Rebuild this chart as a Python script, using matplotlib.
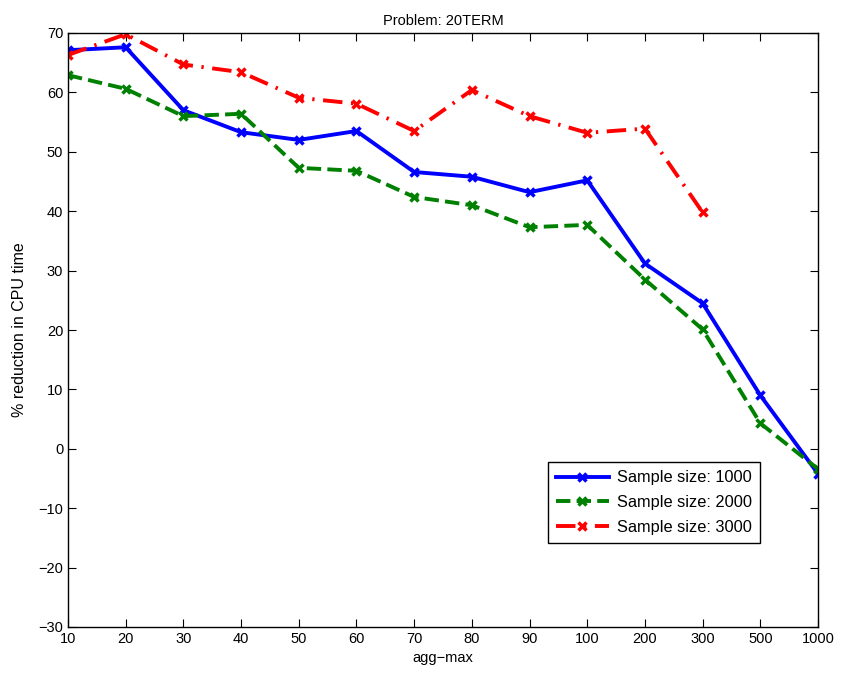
import matplotlib
matplotlib.use("Agg")
import matplotlib.pyplot as plt
import numpy as np

plt.rcParams['font.family'] = ['Liberation Sans', 'DejaVu Sans']

categories = ['10', '20', '30', '40', '50', '60', '70', '80', '90', '100', '200', '300', '500', '1000']
s1000 = [67.1, 67.6, 57.0, 53.3, 52.0, 53.5, 46.6, 45.8, 43.2, 45.2, 31.2, 24.5, 9.0, -4.2]
s2000 = [62.9, 60.6, 56.0, 56.4, 47.3, 46.8, 42.4, 41.0, 37.3, 37.7, 28.5, 20.1, 4.3, -3.4]
s3000 = [66.3, 69.8, 64.7, 63.4, 59.1, 58.1, 53.5, 60.4, 56.0, 53.2, 53.9, 39.8]

fig = plt.figure(figsize=(8.42, 6.75), dpi=100)
ax = fig.add_axes([68/842, 48/675, 750/842, 594/675])

x = np.arange(len(categories))
mk = dict(marker='x', markersize=6, markeredgewidth=2.5)
ax.plot(x, s1000, color='#0000ff', linestyle='-', linewidth=2.8, label='Sample size: 1000', **mk)
ax.plot(x, s2000, color='#008000', linestyle='--', linewidth=2.8, label='Sample size: 2000', **mk)
ax.plot(x[:len(s3000)], s3000, color='#ff0000', linestyle=(0, (5, 2.2, 0.6, 2.2)), linewidth=2.8,
        label='Sample size: 3000', **mk)

ax.set_xlim(0, len(categories) - 1)
ax.set_ylim(-30, 70)
ax.set_xticks(x)
ax.set_xticklabels(categories)
ax.set_yticks(np.arange(-30, 71, 10))
ax.tick_params(direction='in', top=True, right=True, labelsize=10.5, length=6, width=0.8)
for sp in ax.spines.values():
    sp.set_linewidth(1.0)

ax.set_xlabel('agg\u2212max', fontsize=10.5)
ax.set_ylabel('% reduction in CPU time', fontsize=11.5, labelpad=8)
ax.set_title('Problem: 20TERM', fontsize=10.5)

leg = ax.legend(loc='lower left', bbox_to_anchor=(0.64, 0.141), borderaxespad=0,
                fancybox=False, edgecolor='black', fontsize=11.8, framealpha=1,
                handlelength=3.2, labelspacing=0.6, borderpad=0.5, handletextpad=0.5)
leg.get_frame().set_linewidth(1.0)

fig.savefig('out.png', dpi=100)
